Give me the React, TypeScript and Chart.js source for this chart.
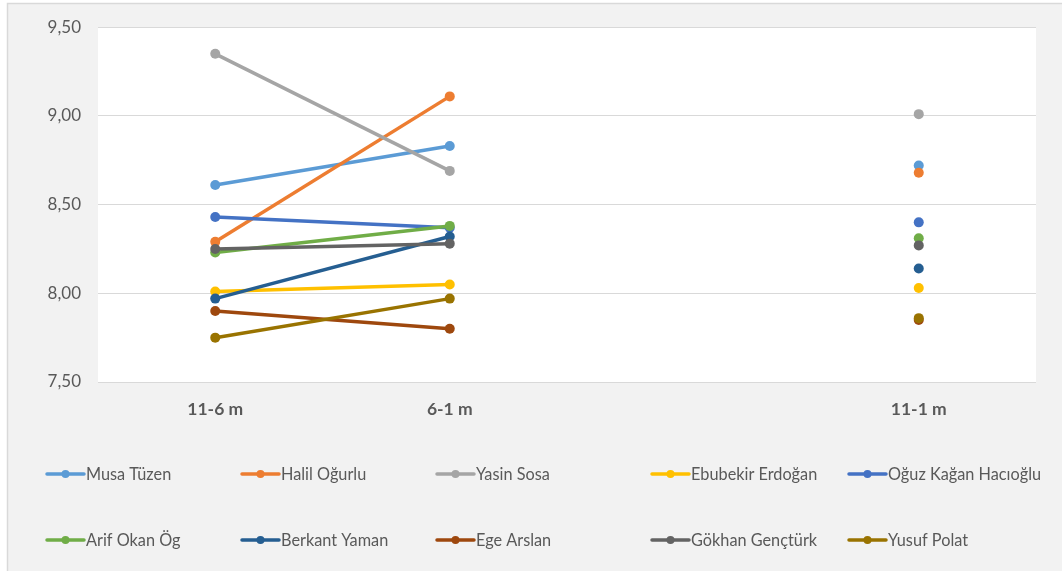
import React, { useEffect, useRef } from "react";
import { Chart, registerables } from "chart.js";

Chart.register(...registerables);

const categories = ["11-6 m", "6-1 m", "", "11-1 m"];
const seriesNames = [
  "Musa Tüzen",
  "Halil Oğurlu",
  "Yasin Sosa",
  "Ebubekir Erdoğan",
  "Oğuz Kağan Hacıoğlu",
  "Arif Okan Ög",
  "Berkant Yaman",
  "Ege Arslan",
  "Gökhan Gençtürk",
  "Yusuf Polat",
];
const musaTuzen = [8.61, 8.83, null, 8.72];
const halilOgurlu = [8.29, 9.11, null, 8.68];
const yasinSosa = [9.35, 8.69, null, 9.01];
const ebubekirErdogan = [8.01, 8.05, null, 8.03];
const oguzKaganHacioglu = [8.43, 8.37, null, 8.4];
const arifOkanOg = [8.23, 8.38, null, 8.31];
const berkantYaman = [7.97, 8.32, null, 8.14];
const egeArslan = [7.9, 7.8, null, 7.85];
const gokhanGencturk = [8.25, 8.28, null, 8.27];
const yusufPolat = [7.75, 7.97, null, 7.86];
const seriesValues = [
  musaTuzen,
  halilOgurlu,
  yasinSosa,
  ebubekirErdogan,
  oguzKaganHacioglu,
  arifOkanOg,
  berkantYaman,
  egeArslan,
  gokhanGencturk,
  yusufPolat,
];
const seriesColors = [
  "#5B9BD5",
  "#ED7D31",
  "#A5A5A5",
  "#FFC000",
  "#4472C4",
  "#70AD47",
  "#255E91",
  "#9E480E",
  "#636363",
  "#997300",
];
const yMin = 7.5;
const yMax = 9.5;
const yStep = 0.5;

const FONT = "Lato, 'Open Sans', sans-serif";
const TEXT = "#595959";

const backgroundPlugin = {
  id: "bgPlugin",
  beforeDraw(chart: any) {
    const { ctx, width, height, chartArea } = chart;
    ctx.save();
    ctx.fillStyle = "#FFFFFF";
    ctx.fillRect(0, 0, width, height);
    ctx.fillStyle = "#F2F2F2";
    ctx.fillRect(7, 3, width - 7, height - 3);
    ctx.strokeStyle = "#D9D9D9";
    ctx.lineWidth = 1.5;
    ctx.beginPath();
    ctx.moveTo(7.5, height);
    ctx.lineTo(7.5, 3.5);
    ctx.lineTo(width, 3.5);
    ctx.stroke();
    ctx.fillStyle = "#FFFFFF";
    ctx.fillRect(
      chartArea.left,
      chartArea.top,
      chartArea.right - chartArea.left,
      chartArea.bottom - chartArea.top
    );
    ctx.restore();
  },
};

const legendColumns = [47, 242, 437, 652, 849];
const legendRows = [474, 540];

const legendPlugin = {
  id: "customLegend",
  afterDraw(chart: any) {
    const { ctx } = chart;
    ctx.save();
    ctx.font = `16.3px ${FONT}`;
    ctx.textBaseline = "middle";
    ctx.textAlign = "left";
    seriesNames.forEach((name, i) => {
      const x = legendColumns[i % 5];
      const y = legendRows[Math.floor(i / 5)];
      const color = seriesColors[i];
      ctx.strokeStyle = color;
      ctx.lineWidth = 3.5;
      ctx.lineCap = "round";
      ctx.beginPath();
      ctx.moveTo(x, y);
      ctx.lineTo(x + 37, y);
      ctx.stroke();
      ctx.fillStyle = color;
      ctx.beginPath();
      ctx.arc(x + 18.5, y, 4, 0, Math.PI * 2);
      ctx.fill();
      ctx.fillStyle = TEXT;
      ctx.fillText(name, x + 39, y + 1);
    });
    ctx.restore();
  },
};

export default function App() {
  const canvasRef = useRef<HTMLCanvasElement | null>(null);

  useEffect(() => {
    if (!canvasRef.current) return;
    const chart = new Chart(canvasRef.current, {
      type: "line",
      data: {
        labels: categories,
        datasets: seriesNames.map((name, i) => ({
          label: name,
          data: seriesValues[i],
          borderColor: seriesColors[i],
          backgroundColor: seriesColors[i],
          pointBackgroundColor: seriesColors[i],
          pointBorderColor: seriesColors[i],
          borderWidth: 3.5,
          pointRadius: 5,
          pointBorderWidth: 0,
          spanGaps: false,
          tension: 0,
          order: -i,
        })),
      },
      options: {
        responsive: false,
        animation: false,
        layout: { padding: { top: 25, right: 26, left: 0, bottom: 0 } },
        plugins: {
          legend: { display: false },
          tooltip: { enabled: false },
        },
        scales: {
          x: {
            type: "category",
            offset: true,
            grid: { display: false, drawTicks: false },
            border: { display: false },
            ticks: {
              color: TEXT,
              font: { family: FONT, size: 17.5, weight: "bold" },
              padding: 17,
              maxRotation: 0,
              autoSkip: false,
            },
            afterFit(scale: any) {
              scale.height = 189;
            },
          },
          y: {
            min: yMin,
            max: yMax,
            grid: { color: "#D9D9D9", lineWidth: 1, drawTicks: false },
            border: { display: false },
            ticks: {
              stepSize: yStep,
              color: TEXT,
              font: { family: FONT, size: 17 },
              padding: 17,
              callback: (v: any) => Number(v).toFixed(2).replace(".", ","),
            },
            afterFit(scale: any) {
              scale.width = 98;
            },
          },
        },
      },
      plugins: [backgroundPlugin, legendPlugin],
    });
    return () => chart.destroy();
  }, []);

  return (
    <div style={{ position: "fixed", left: 0, top: 0, width: 1062, height: 571 }}>
      <canvas ref={canvasRef} width={1062} height={571} style={{ display: "block" }} />
    </div>
  );
}
